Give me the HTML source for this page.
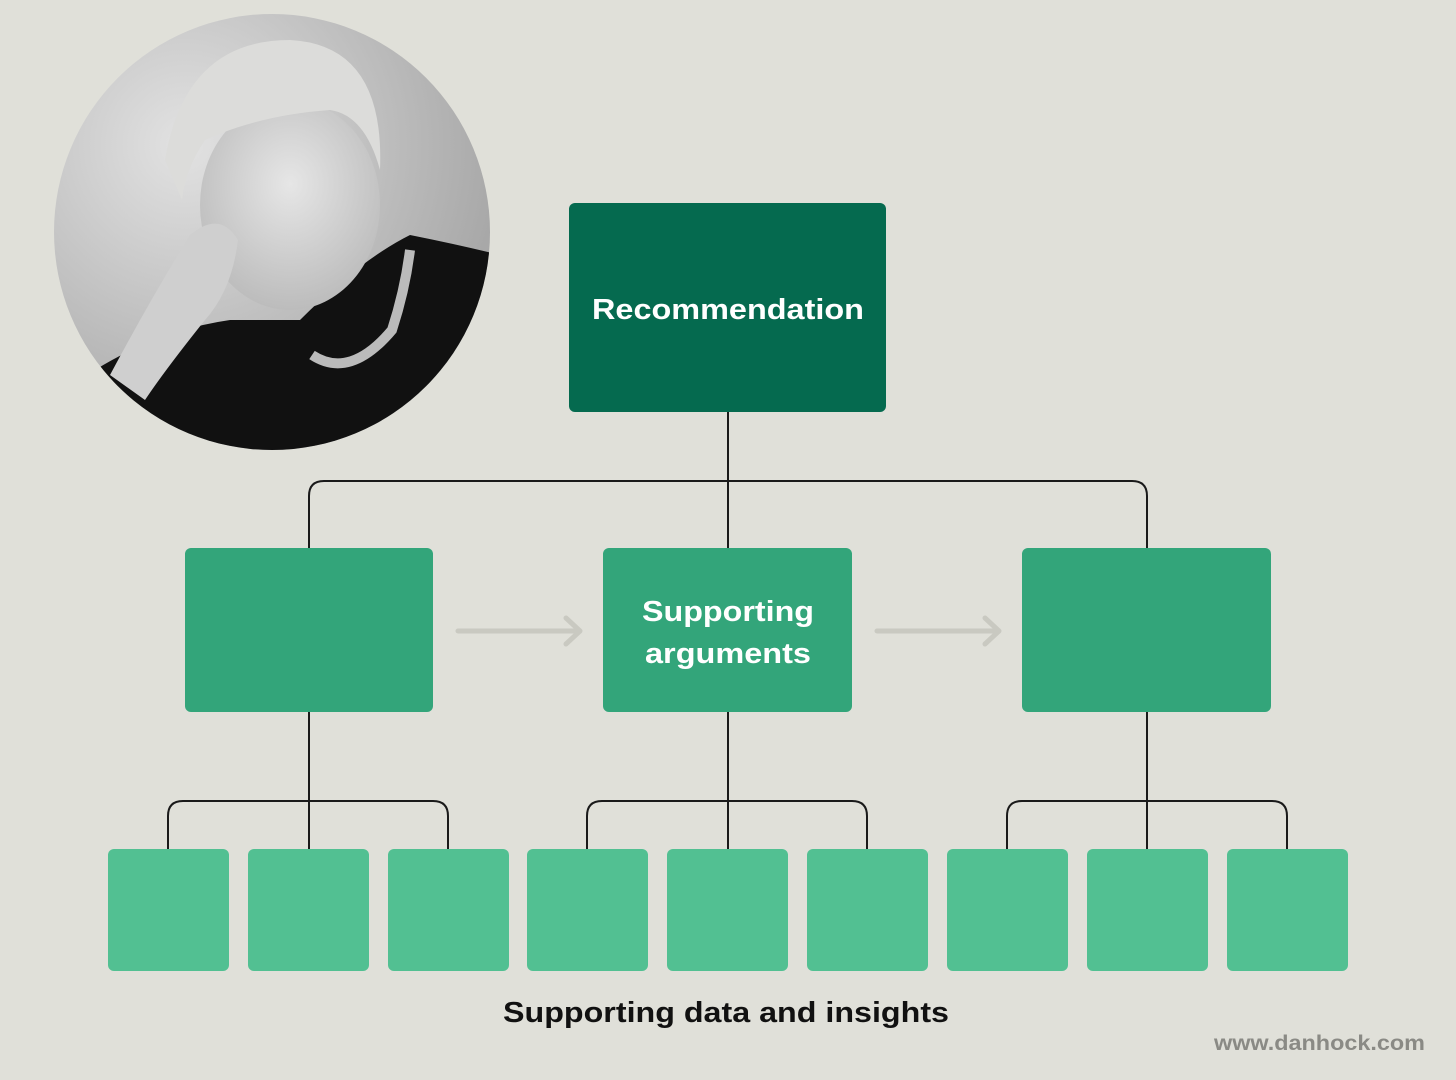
<!DOCTYPE html>
<html><head><meta charset="utf-8"><style>
html,body{margin:0;padding:0;background:#e0e0d9;}
svg{display:block;}
text{font-family:"Liberation Sans",sans-serif;font-weight:bold;}
</style></head><body>
<svg width="1456" height="1080" viewBox="0 0 1456 1080" xmlns="http://www.w3.org/2000/svg">
<defs>
<clipPath id="c"><circle cx="272" cy="232" r="218"/></clipPath>
<radialGradient id="bg" cx="0.3" cy="0.3" r="0.8"><stop offset="0" stop-color="#e2e2e2"/><stop offset="1" stop-color="#a0a0a0"/></radialGradient>
<radialGradient id="face" cx="0.5" cy="0.4" r="0.6"><stop offset="0" stop-color="#e6e6e6"/><stop offset="1" stop-color="#bcbcbc"/></radialGradient>
</defs>
<rect width="1456" height="1080" fill="#e0e0d9"/>
<g clip-path="url(#c)">
<rect x="50" y="10" width="450" height="450" fill="url(#bg)"/>
<path d="M95 370 Q160 330 230 320 L300 320 Q360 260 410 235 Q460 245 500 255 L500 460 L60 460 Z" fill="#111"/>
<ellipse cx="290" cy="205" rx="90" ry="105" fill="url(#face)"/>
<path d="M165 160 Q185 40 290 40 Q385 45 380 170 Q365 115 330 110 Q260 115 205 140 Q185 170 182 200 Z" fill="#dcdcda"/>
<path d="M110 375 Q150 300 190 235 Q220 210 238 240 Q232 290 205 320 Q165 370 145 400 Z" fill="#cfcfcf"/>
<path d="M312 355 Q350 380 392 330 Q405 290 410 250" stroke="#bbb" stroke-width="10" fill="none"/>
</g>
<rect x="569" y="203" width="317" height="209" rx="6" fill="#056a4f"/>
<g fill="#33a57a">
<rect x="185" y="548" width="248" height="164" rx="6"/>
<rect x="603" y="548" width="249" height="164" rx="6"/>
<rect x="1022" y="548" width="249" height="164" rx="6"/>
</g>
<g fill="#52c092">
<rect x="108" y="849" width="121" height="122" rx="6"/>
<rect x="248" y="849" width="121" height="122" rx="6"/>
<rect x="388" y="849" width="121" height="122" rx="6"/>
<rect x="527" y="849" width="121" height="122" rx="6"/>
<rect x="667" y="849" width="121" height="122" rx="6"/>
<rect x="807" y="849" width="121" height="122" rx="6"/>
<rect x="947" y="849" width="121" height="122" rx="6"/>
<rect x="1087" y="849" width="121" height="122" rx="6"/>
<rect x="1227" y="849" width="121" height="122" rx="6"/>
</g>
<g stroke="#1a1a1a" stroke-width="2" fill="none">
<path d="M728 412 V548"/>
<path d="M309 548 V496 Q309 481 324 481 H1132 Q1147 481 1147 496 V548"/>
<path d="M309 712 V849 M728 712 V849 M1147 712 V849"/>
<path d="M168 849 V816 Q168 801 183 801 H433 Q448 801 448 816 V849"/>
<path d="M587 849 V816 Q587 801 602 801 H852 Q867 801 867 816 V849"/>
<path d="M1007 849 V816 Q1007 801 1022 801 H1272 Q1287 801 1287 816 V849"/>
</g>
<g stroke="#c9c9c1" stroke-width="5" fill="none" stroke-linecap="round" stroke-linejoin="round">
<path d="M458 631 H578 M566 618 L580 631 L566 644"/>
<path d="M877 631 H997 M985 618 L999 631 L985 644"/>
</g>
<text x="728" y="319" font-size="29" fill="#fff" text-anchor="middle" textLength="272" lengthAdjust="spacingAndGlyphs">Recommendation</text>
<text x="728" y="621" font-size="29" fill="#fff" text-anchor="middle" textLength="172" lengthAdjust="spacingAndGlyphs">Supporting</text>
<text x="728" y="663" font-size="29" fill="#fff" text-anchor="middle" textLength="166" lengthAdjust="spacingAndGlyphs">arguments</text>
<text x="726" y="1022" font-size="29" fill="#111" text-anchor="middle" textLength="446" lengthAdjust="spacingAndGlyphs">Supporting data and insights</text>
<text x="1425" y="1050" font-size="21" fill="#8a8a85" text-anchor="end" textLength="211" lengthAdjust="spacingAndGlyphs" font-weight="normal">www.<tspan font-weight="bold">danhock</tspan>.com</text>
</svg>
</body></html>
